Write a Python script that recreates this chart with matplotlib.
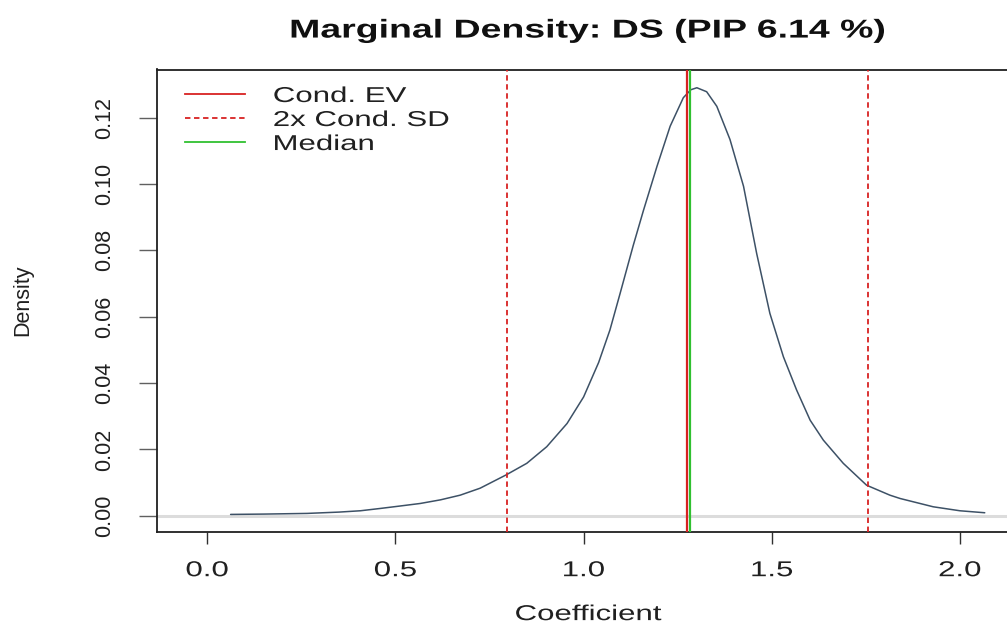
import numpy as np
import matplotlib
matplotlib.use("Agg")
import matplotlib.pyplot as plt
from matplotlib.patheffects import AbstractPathEffect
from matplotlib.transforms import Affine2D
from matplotlib.lines import Line2D

# ---- data ----
coef = [0.062, 0.150, 0.265, 0.350, 0.407, 0.460, 0.510, 0.566, 0.620, 0.672,
        0.725, 0.794, 0.849, 0.902, 0.956, 1.000, 1.040, 1.070, 1.097, 1.132,
        1.159, 1.195, 1.230, 1.265, 1.285, 1.301, 1.327, 1.354, 1.389, 1.425,
        1.460, 1.495, 1.531, 1.566, 1.602, 1.637, 1.690, 1.752, 1.814, 1.841,
        1.929, 2.000, 2.066]
density = [0.0004, 0.0005, 0.0007, 0.0011, 0.0015, 0.0022, 0.0029, 0.0037, 0.0048, 0.0062,
           0.0083, 0.0123, 0.0158, 0.0208, 0.0278, 0.0358, 0.0462, 0.0560, 0.0670, 0.0815,
           0.0920, 0.1053, 0.1174, 0.1260, 0.1284, 0.1290, 0.1278, 0.1234, 0.1134, 0.0993,
           0.0790, 0.0610, 0.0479, 0.0379, 0.0288, 0.0228, 0.0158, 0.0092, 0.0062, 0.0052,
           0.0027, 0.0015, 0.0009]
cond_ev = 1.276
cond_sd = 0.24
median = 1.283
x_ticks = [0.0, 0.5, 1.0, 1.5, 2.0]
x_ticklabels = ["0.0", "0.5", "1.0", "1.5", "2.0"]
y_ticks = [0.00, 0.02, 0.04, 0.06, 0.08, 0.10, 0.12]
y_ticklabels = ["0.00", "0.02", "0.04", "0.06", "0.08", "0.10", "0.12"]
legend_labels = ["Cond. EV", "2x Cond. SD", "Median"]
title = "Marginal Density: DS (PIP 6.14 %)"


class HStretch(AbstractPathEffect):
    """Stretch rendered text horizontally (display x) about an anchor."""
    def __init__(self, sx, anchor="center"):
        super().__init__()
        self.sx = sx
        self.anchor = anchor

    def draw_path(self, renderer, gc, tpath, affine, rgbFace=None):
        try:
            ext = tpath.get_extents(affine)
            ok = np.isfinite(ext.x0) and np.isfinite(ext.x1)
        except Exception:
            ok = False
        if not ok:
            renderer.draw_path(gc, tpath, affine, rgbFace)
            return
        if self.anchor == "left":
            x0 = ext.x0
        elif self.anchor == "right":
            x0 = ext.x1
        else:
            x0 = 0.5 * (ext.x0 + ext.x1)
        new = affine + Affine2D().translate(-x0, 0).scale(self.sx, 1.0).translate(x0, 0)
        renderer.draw_path(gc, tpath, new, rgbFace)


SX = 1.45
plt.rcParams["font.family"] = ["Liberation Sans", "DejaVu Sans"]
FS = 15.5

W, H = 1007, 627
fig = plt.figure(figsize=(W / 100, H / 100), dpi=100)
ax_left, ax_right, ax_top, ax_bottom = 157, 1019, 69.5, 532
ax = fig.add_axes([ax_left / W, 1 - ax_bottom / H,
                   (ax_right - ax_left) / W, (ax_bottom - ax_top) / H])

ax.axhline(0, color="#dcdcdc", lw=2.2, zorder=1)
ax.plot(coef, density, color="#3d5166", lw=1.1, zorder=2,
        solid_joinstyle="round", solid_capstyle="round")
ax.axvline(cond_ev, color="#d82222", lw=1.6, zorder=3)
ax.axvline(cond_ev - 2 * cond_sd, color="#d82222", lw=1.3, ls=(0, (3, 2)), zorder=3)
ax.axvline(cond_ev + 2 * cond_sd, color="#d82222", lw=1.3, ls=(0, (3, 2)), zorder=3)
ax.axvline(median, color="#30c030", lw=1.6, zorder=3)

ax.set_xlim(-0.1336, 2.157)
ax.set_ylim(-0.0049, 0.1345)

ax.set_xticks(x_ticks)
ax.set_xticklabels(x_ticklabels)
ax.set_yticks(y_ticks)
ax.set_yticklabels(y_ticklabels, rotation=90, va="center")

for sp in ax.spines.values():
    sp.set_linewidth(1.3)
    sp.set_color("#202020")

ax.tick_params(axis="x", length=8.6, width=1.0, color="#303030", pad=11.7,
               labelsize=FS, labelcolor="#202020")
ax.tick_params(axis="y", length=13, width=1.0, color="#606060", pad=17,
               labelsize=FS, labelcolor="#202020")

ax.set_xlabel("Coefficient", fontsize=FS, color="#202020", labelpad=16.5)
ax.set_ylabel("Density", fontsize=FS, color="#202020")
ax.yaxis.set_label_coords((33 - ax_left) / (ax_right - ax_left), 0.5)

t = ax.set_title(title, fontsize=18.6, fontweight="bold", color="#101010", pad=23)

handles = [Line2D([], [], color="#d82222", lw=1.3),
           Line2D([], [], color="#d82222", lw=1.3, ls=(0, (3, 2))),
           Line2D([], [], color="#30c030", lw=1.3)]
leg = ax.legend(handles, legend_labels, loc="upper left",
                bbox_to_anchor=(28 / (ax_right - ax_left), 1 - 16.5 / (ax_bottom - ax_top)),
                frameon=False, fontsize=FS, borderaxespad=0, borderpad=0,
                handlelength=2.8, handletextpad=1.3, labelspacing=0.14)
for txt in leg.get_texts():
    txt.set_color("#202020")

# horizontal text stretch (rotated texts are left as is)
fig.canvas.draw()
t.set_path_effects([HStretch(SX, "center")])
ax.xaxis.label.set_path_effects([HStretch(SX, "center")])
for lbl in ax.get_xticklabels():
    lbl.set_path_effects([HStretch(SX, "center")])
for txt in leg.get_texts():
    txt.set_path_effects([HStretch(SX, "left")])

fig.savefig("out.png", dpi=100, facecolor="white")
